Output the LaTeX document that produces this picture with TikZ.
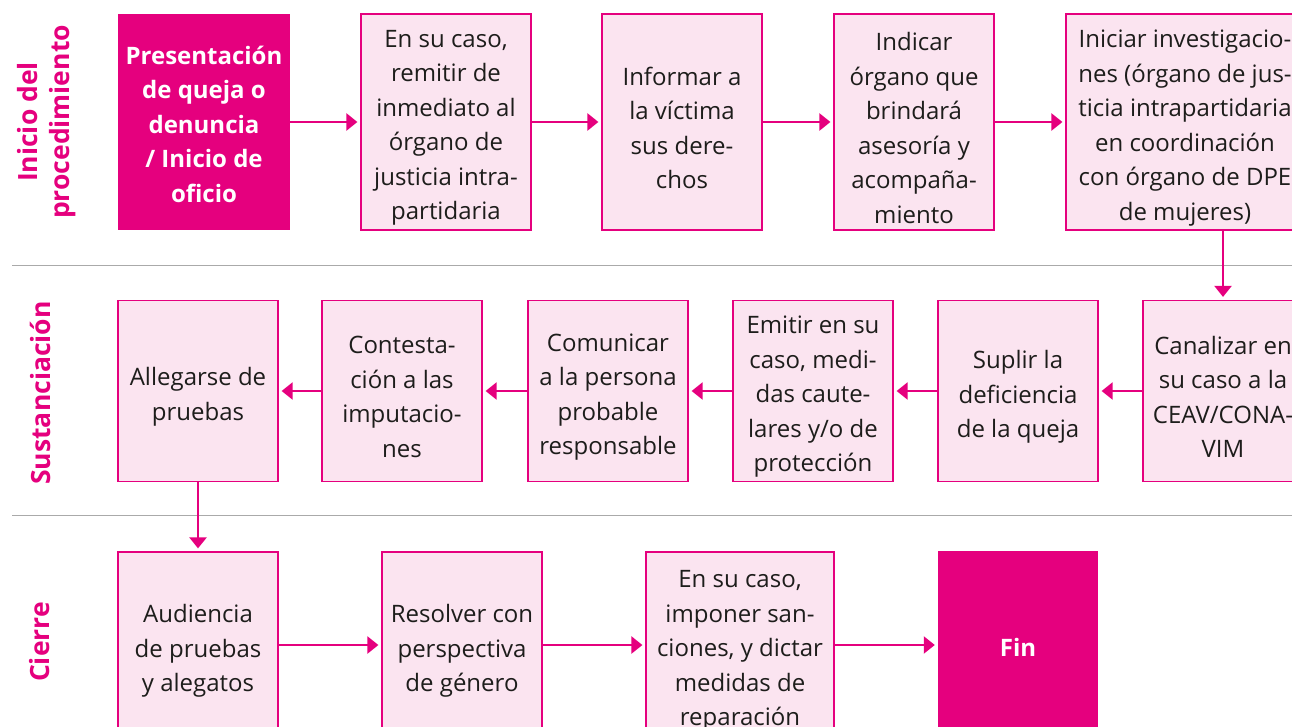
\documentclass[tikz,border=0pt]{standalone}
\usepackage{fontspec}
\setmainfont{Open Sans}
\usetikzlibrary{arrows.meta}
\definecolor{mag}{HTML}{E5007E}
\definecolor{lpink}{HTML}{FBE4F0}
\definecolor{txt}{HTML}{1D1D1B}
\definecolor{sep}{HTML}{AAAAAA}
\newcommand\mybox[6]{% style, name, width, height, position, text
  \node[#1, minimum width=#3, minimum height=#4] (#2) at #5 {};
  \node[#1txt] (#2t) at ([yshift=-6pt]#2.center) {#6};}
\begin{document}
\begin{tikzpicture}[x=1pt,y=-1pt,
  box/.style={draw=mag, line width=1.2pt, fill=lpink, inner sep=0pt},
  boxtxt/.style={text=txt, align=center, inner sep=0pt, font=\fontsize{24}{34.5}\selectfont},
  dark/.style={draw=none, fill=mag, inner sep=0pt},
  darktxt/.style={text=white, align=center, inner sep=0pt, yshift=4pt, font=\fontsize{24}{34.5}\selectfont\bfseries},
  lab/.style={rotate=90, text=mag, align=center, font=\fontsize{26.5}{32}\selectfont\bfseries},
  arr/.style={draw=mag, line width=2.2pt, -{Triangle[length=11pt,width=17pt]}, shorten >=3pt},
  sepline/.style={draw=sep, line width=1pt}]
\useasboundingbox (0,0) rectangle (1292,727);
% separators
\coordinate (s1a) at (12,265); \coordinate (s1b) at (1292,265);
\coordinate (s2a) at (12,515); \coordinate (s2b) at (1292,515);
\draw[sepline] (s1a) -- (s1b);
\draw[sepline] (s2a) -- (s2b);
% labels
\node[lab] (l1) at (47,122) {Inicio del\\procedimiento};
\node[lab] (l2) at (40,393) {Sustanciación};
\node[lab] (l3) at (40,642) {Cierre};
% row 1
\mybox{dark}{b1}{172pt}{216pt}{(204,122)}{Presentación\\de queja o\\denuncia\\/ Inicio de\\oficio}
\mybox{box}{b2}{170pt}{216pt}{(446,122)}{En su caso,\\remitir de\\inmediato al\\órgano de\\justicia intra-\\partidaria}
\mybox{box}{b3}{160pt}{216pt}{(682,122)}{Informar a\\la víctima\\sus dere-\\chos}
\mybox{box}{b4}{160pt}{216pt}{(914,122)}{Indicar\\órgano que\\brindará\\asesoría y\\acompaña-\\miento}
\mybox{box}{b5}{238pt}{216pt}{(1185,122)}{Iniciar investigacio-\\nes (órgano de jus-\\ticia intrapartidaria\\en coordinación\\con órgano de DPE\\de mujeres)}
% row 2
\mybox{box}{b6}{160pt}{181pt}{(1223,391)}{Canalizar en\\su caso a la\\CEAV/CONA-\\VIM}
\mybox{box}{c5}{160pt}{181pt}{(1018,391)}{Suplir la\\deficiencia\\de la queja}
\mybox{box}{c4}{160pt}{181pt}{(813,391)}{Emitir en su\\caso, medi-\\das caute-\\lares y/o de\\protección}
\mybox{box}{c3}{160pt}{181pt}{(608,391)}{Comunicar\\a la persona\\probable\\responsable}
\mybox{box}{c2}{160pt}{181pt}{(402,391)}{Contesta-\\ción a las\\imputacio-\\nes}
\mybox{box}{c1}{160pt}{181pt}{(198,391)}{Allegarse de\\pruebas}
% row 3
\mybox{box}{d1}{160pt}{186pt}{(198,645)}{Audiencia\\de pruebas\\y alegatos}
\mybox{box}{d2}{160pt}{186pt}{(462,645)}{Resolver con\\perspectiva\\de género}
\mybox{box}{d3}{188pt}{186pt}{(740,645)}{En su caso,\\imponer san-\\ciones, y dictar\\medidas de\\reparación}
\mybox{dark}{d4}{160pt}{188pt}{(1018,645)}{Fin}
% arrows
\draw[arr] (b1) -- (b2);
\draw[arr] (b2) -- (b3);
\draw[arr] (b3) -- (b4);
\draw[arr] (b4) -- (b5);
\draw[arr] (b5.south -| b6.north) -- (b6.north);
\draw[arr] (b6) -- (c5);
\draw[arr] (c5) -- (c4);
\draw[arr] (c4) -- (c3);
\draw[arr] (c3) -- (c2);
\draw[arr] (c2) -- (c1);
\draw[arr] (c1) -- (d1);
\draw[arr] (d1) -- (d2);
\draw[arr] (d2) -- (d3);
\draw[arr] (d3) -- (d4);
\end{tikzpicture}
\end{document}
